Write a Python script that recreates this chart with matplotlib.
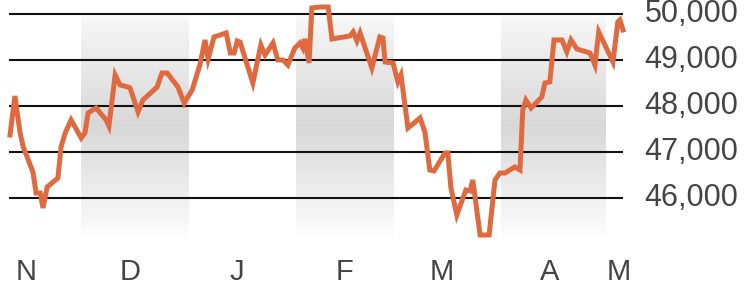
import numpy as np
import matplotlib.pyplot as plt

# x values are days counted from 1 November (day 0)
days = [9.5, 10.9, 12.4, 13.3, 16.1, 17.0, 18.2, 19.0, 20.2, 23.3, 24.2, 25.4,
        27.1, 30.0, 31.1, 32.0, 34.3, 36.0, 37.2, 38.0, 39.8, 41.2, 43.5, 44.1,
        46.4, 47.8, 51.9, 53.3, 54.8, 57.9, 59.7, 62.0, 64.3, 65.7, 66.6, 68.3,
        71.8, 73.0, 74.1, 75.0, 75.8, 79.5, 81.8, 83.0, 85.3, 86.7, 88.2, 89.6,
        91.6, 93.1, 93.9, 94.5, 95.7, 96.5, 98.8, 101.2, 102.3, 107.5, 108.4,
        109.5, 110.4, 113.8, 116.1, 117.0, 117.6, 119.9, 121.3, 122.2, 124.2,
        127.7, 129.1, 130.5, 131.7, 134.9, 135.7, 136.6, 138.3, 140.9, 142.1,
        142.9, 145.0, 147.6, 149.3, 150.7, 152.2, 155.0, 156.5, 157.3, 158.2,
        159.7, 162.8, 163.7, 165.1, 166.3, 168.6, 170.0, 171.2, 172.9, 176.7,
        178.1, 179.2, 183.3, 184.7, 185.3, 186.2]
values = [47370, 48217, 47413, 47109, 46565, 46109, 46109, 45783, 46239, 46435,
          47109, 47413, 47696, 47304, 47413, 47848, 47957, 47804, 47696, 47565,
          48674, 48457, 48413, 48391, 47870, 48130, 48413, 48717, 48717, 48413,
          48065, 48348, 48913, 49435, 49022, 49500, 49587, 49152, 49152, 49413,
          49391, 48500, 49326, 49109, 49370, 49000, 49000, 48891, 49261, 49370,
          49261, 49457, 48935, 50130, 50152, 50152, 49457, 49522, 49609, 49413,
          49587, 48826, 49500, 49478, 48957, 48935, 48522, 48674, 47522, 47739,
          47435, 46609, 46587, 46978, 46978, 46217, 45630, 46174, 46152, 46391,
          45196, 45196, 46391, 46543, 46543, 46674, 46609, 47913, 48130, 47957,
          48196, 48500, 48522, 49435, 49435, 49174, 49435, 49239, 49152, 48891,
          49609, 48957, 49826, 49870, 49652]

# shaded months (start day, end day): Dec, Feb, Apr
bands = [(30, 61), (92, 120), (151, 181)]

month_ticks = [14, 44, 75, 106, 134, 165, 185]
month_labels = ['N', 'D', 'J', 'F', 'M', 'A', 'M']
y_ticks = [46000, 47000, 48000, 49000, 50000]

plt.rcParams['font.family'] = ['Liberation Sans', 'DejaVu Sans']

fig = plt.figure(figsize=(7.44, 2.90), dpi=100)
ax = fig.add_axes([9 / 744, 50 / 290, 614 / 744, 240 / 290])
ylo, yhi = 45087, 50304

# vertical gradient for the month bands
t = np.linspace(0, 1, 200)
shade = np.interp(t, [0.0, 0.05, 0.5, 0.92, 1.0], [1.0, 0.96, 0.845, 0.97, 1.0])
grad = np.dstack([shade, shade, shade])[0][:, None, :]
for b0, b1 in bands:
    ax.imshow(grad, extent=(b0, b1, ylo, yhi - 250), aspect='auto',
              origin='upper', zorder=0, interpolation='bilinear')
ax.set_xlim(9.2, 186.2)
ax.set_ylim(ylo, yhi)

for yv in y_ticks:
    ax.axhline(yv, color='#111111', lw=1.5, zorder=1)

ax.plot(days, values, color='#E06A40', lw=3.6, zorder=3, clip_on=False,
        solid_joinstyle='miter')

for s in ax.spines.values():
    s.set_visible(False)
ax.set_xticks([])
ax.set_yticks([])

for yv in y_ticks:
    ax.text(1.035, (yv - ylo) / (yhi - ylo), f'{yv:,}', transform=ax.transAxes,
            ha='left', va='center', fontsize=22, color='#444444')
for d, lab in zip(month_ticks, month_labels):
    ax.text(d, ylo - 700, lab, ha='center', va='center', fontsize=21,
            color='#444444', clip_on=False)

fig.savefig('out.png', dpi=100)
